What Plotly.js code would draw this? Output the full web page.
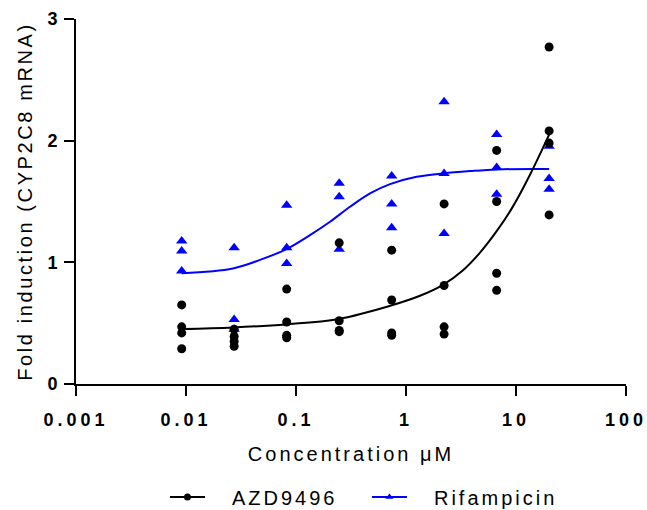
<!DOCTYPE html>
<html><head><meta charset="utf-8">
<script src="https://cdn.plot.ly/plotly-3.0.1.min.js"></script>
<style>
body{margin:0;background:#fff}
#chart .xtick text{letter-spacing:4px}
#chart .ytick text{letter-spacing:0}
#chart .xtitle, #chart .legendtext{letter-spacing:3px}
#chart .ytitle{letter-spacing:2.6px}
#chart .legendtext{transform:translateX(22px)}
</style></head><body>
<div id="chart" style="width:647px;height:510px"></div>
<script>
// concentrations (µM)
const concentrations = [0.00914, 0.0274, 0.0823, 0.247, 0.741, 2.22, 6.67, 20];
// replicate values per concentration
const azdValues = [
  [0.65, 0.47, 0.42, 0.29],
  [0.45, 0.39, 0.35, 0.31],
  [0.78, 0.51, 0.40, 0.38],
  [1.16, 0.52, 0.44, 0.43],
  [1.10, 0.69, 0.42, 0.40],
  [1.48, 0.81, 0.47, 0.41],
  [1.92, 1.50, 0.91, 0.77],
  [2.77, 2.08, 1.98, 1.39]
];
const rifValues = [
  [1.175, 1.093, 0.928],
  [1.12, 0.53, 0.45],
  [1.47, 1.12, 0.99],
  [1.65, 1.54, 1.107],
  [1.71, 1.48, 1.284],
  [2.32, 1.73, 1.238],
  [2.05, 1.78, 1.56],
  [1.955, 1.69, 1.60]
];
// fitted curves
const azdFitX = [0.00914, 0.0267, 0.0811, 0.246, 0.731, 1.34, 2.17, 3.30, 4.71, 6.72, 9.39, 13.4, 20];
const azdFitY = [0.452, 0.465, 0.49, 0.535, 0.645, 0.725, 0.815, 0.935, 1.08, 1.26, 1.46, 1.72, 2.05];
const rifFitX = [0.00914, 0.0267, 0.0471, 0.0811, 0.134, 0.204, 0.310, 0.471, 0.716, 1.25, 2.17, 3.82, 6.72, 20];
const rifFitY = [0.91, 0.95, 1.02, 1.107, 1.224, 1.334, 1.457, 1.567, 1.643, 1.703, 1.731, 1.750, 1.764, 1.767];
const xTickVals = [0.001, 0.01, 0.1, 1, 10, 100];
const xTickText = ['0.001', '0.01', '0.1', '1', '10', '100'];
const yTickVals = [0, 1, 2, 3];
const seriesNames = ['AZD9496', 'Rifampicin'];

function flatten(vals) {
  const xs = [], ys = [];
  vals.forEach((row, i) => row.forEach(v => { xs.push(concentrations[i]); ys.push(v); }));
  return {xs, ys};
}
const azd = flatten(azdValues), rif = flatten(rifValues);
const FONT = '"Liberation Sans", Arial, sans-serif';
const BLUE = '#0000ff';

const traces = [
  {x: rifFitX, y: rifFitY, mode: 'lines', line: {color: BLUE, width: 2, shape: 'spline'}, showlegend: false, hoverinfo: 'skip'},
  {x: azdFitX, y: azdFitY, mode: 'lines', line: {color: '#000', width: 2, shape: 'spline'}, showlegend: false, hoverinfo: 'skip'},
  {x: rif.xs, y: rif.ys, mode: 'markers', marker: {symbol: 'triangle-up', size: 10, color: BLUE}, showlegend: false, cliponaxis: false},
  {x: azd.xs, y: azd.ys, mode: 'markers', marker: {symbol: 'circle', size: 9, color: '#000'}, showlegend: false, cliponaxis: false},
  {x: [null], y: [null], name: seriesNames[0], mode: 'lines+markers', line: {color: '#000', width: 2}, marker: {symbol: 'circle', size: 7, color: '#000'}},
  {x: [null], y: [null], name: seriesNames[1], mode: 'lines+markers', line: {color: BLUE, width: 2}, marker: {symbol: 'triangle-up', size: 7, color: BLUE}}
];

const layout = {
  width: 647, height: 510,
  margin: {l: 76, r: 21, t: 19, b: 126},
  paper_bgcolor: '#fff', plot_bgcolor: '#fff',
  font: {family: FONT, color: '#000'},
  showlegend: true,
  xaxis: {
    type: 'log', range: [-3, 2], automargin: false,
    tickvals: xTickVals, ticktext: xTickText,
    ticks: 'outside', ticklen: 10, tickwidth: 2, tickcolor: '#000',
    showline: true, linewidth: 2, linecolor: '#000',
    showgrid: false, zeroline: false, ticklabelstandoff: 8,
    tickfont: {family: FONT, size: 18, weight: 'bold'},
    title: {text: 'Concentration μM', font: {family: FONT, size: 20}, standoff: 18}
  },
  yaxis: {
    range: [0, 3], automargin: false,
    tickvals: yTickVals,
    ticks: 'outside', ticklen: 10, tickwidth: 2, tickcolor: '#000',
    showline: true, linewidth: 2, linecolor: '#000',
    showgrid: false, zeroline: false, ticklabelstandoff: 3,
    tickfont: {family: FONT, size: 18, weight: 'bold'},
    title: {text: 'Fold induction (CYP2C8 mRNA)', font: {family: FONT, size: 20}, standoff: 9}
  },
  legend: {
    orientation: 'h', xref: 'container', yref: 'container',
    x: 0.255, xanchor: 'left', y: 0.0255, yanchor: 'middle',
    font: {family: FONT, size: 20}, itemwidth: 35, entrywidth: 152, entrywidthmode: 'pixels',
    bgcolor: 'rgba(0,0,0,0)'
  }
};
Plotly.newPlot('chart', traces, layout, {displayModeBar: false, staticPlot: true});
</script>
</body></html>
